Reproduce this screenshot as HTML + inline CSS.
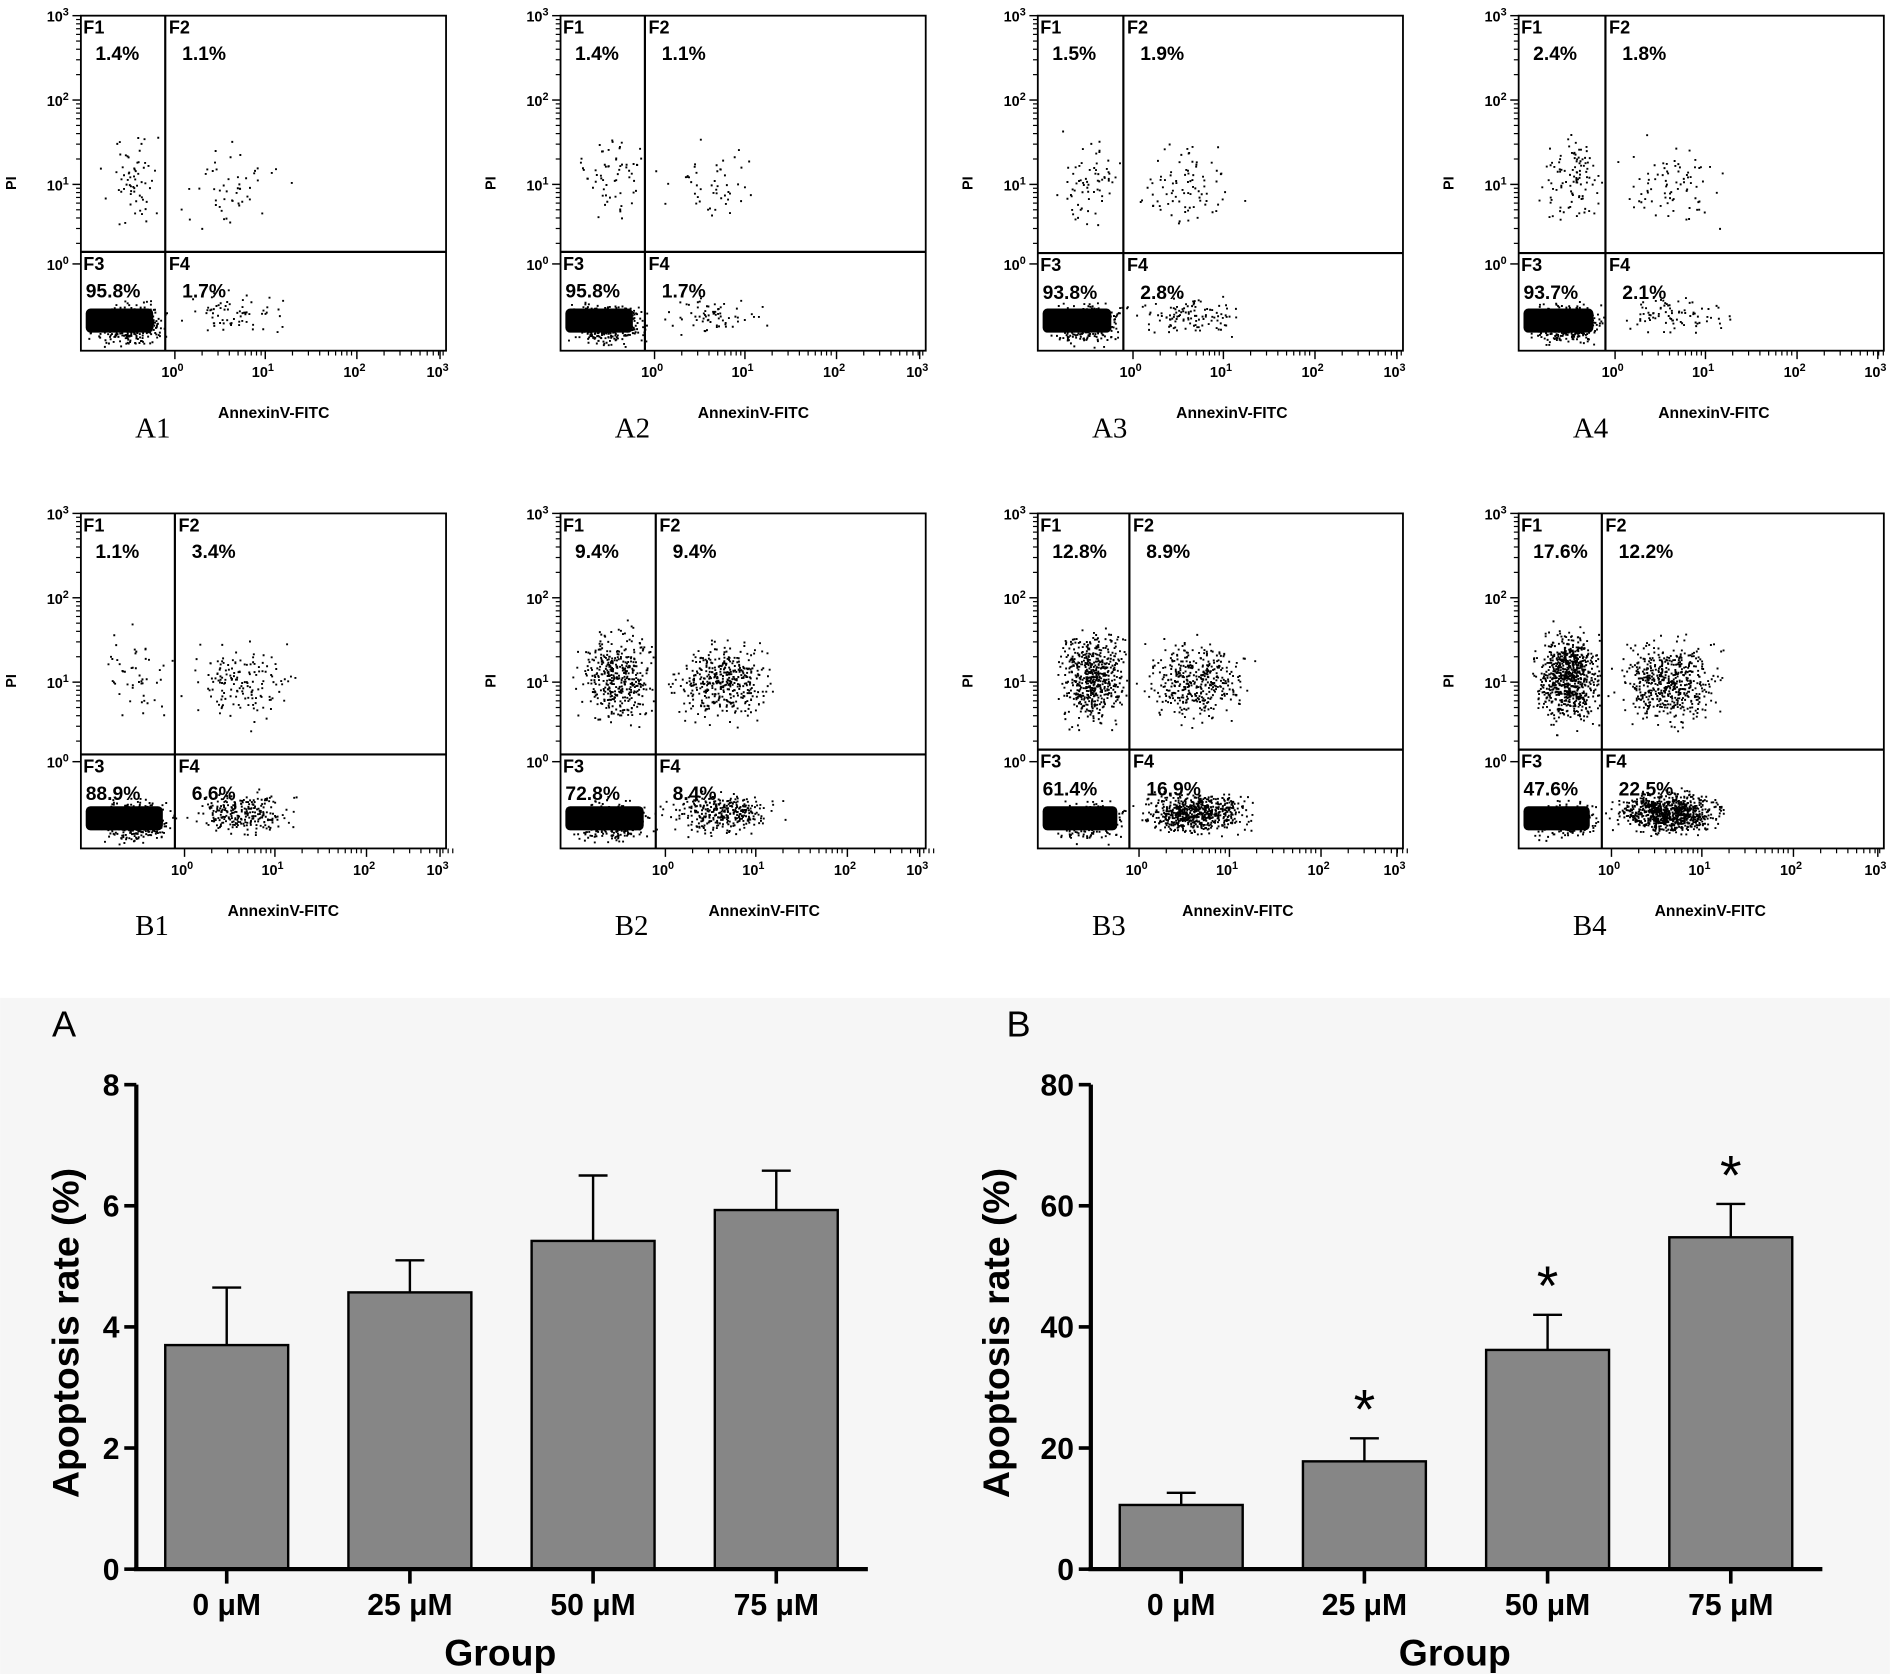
<!DOCTYPE html>
<html><head><meta charset="utf-8"><style>
html,body{margin:0;padding:0;background:#fff}
svg{display:block}
text{font-family:"Liberation Sans",sans-serif}
</style></head><body>
<svg id="fig" width="1890" height="1674" viewBox="0 0 1568 1389" xmlns="http://www.w3.org/2000/svg">
<rect x="0" y="828" width="1568" height="561" fill="#f6f6f6"/>
<g id="flow"></g>
<g id="barsA"></g>
<g id="barsB"></g>
</svg>
<script>
const panelNames=['A1','A2','A3','A4','B1','B2','B3','B4'];
const panelX=[67,465,861,1260,67,465,861,1260];
const panelY=[13,13,13,13,426,426,426,426];
const dividerX=[70,70,71,72,78,79,76,69];
const dividerY=[196,196,197,197,200,200,196,196];
const pctF1=['1.4%','1.4%','1.5%','2.4%','1.1%','9.4%','12.8%','17.6%'];
const pctF2=['1.1%','1.1%','1.9%','1.8%','3.4%','9.4%','8.9%','12.2%'];
const pctF3=['95.8%','95.8%','93.8%','93.7%','88.9%','72.8%','61.4%','47.6%'];
const pctF4=['1.7%','1.7%','2.8%','2.1%','6.6%','8.4%','16.9%','22.5%'];
const NS='http://www.w3.org/2000/svg';
function mk(tag,attrs,parent){const e=document.createElementNS(NS,tag);for(const k in attrs)e.setAttribute(k,attrs[k]);parent.appendChild(e);return e;}
let seed=12345;function rnd(){seed=(seed*1103515245+12345)%2147483648;return seed/2147483648;}
function gauss(){return (rnd()+rnd()+rnd()-1.5)/1.5;}
const flow=document.getElementById('flow');
const W=303,H=278;
panelNames.forEach((nm,i)=>{
  const g=mk('g',{transform:`translate(${panelX[i]},${panelY[i]})`},flow);
  
  
  const dx=dividerX[i],dy=dividerY[i];
  const p1=parseFloat(pctF1[i]),p2=parseFloat(pctF2[i]),p4=parseFloat(pctF4[i]),p3=parseFloat(pctF3[i]);
  function cloud(n,cx,cy,sx,sy,xmin,xmax,ymin,ymax){
    let s='';
    for(let k=0;k<n;k++){const x=cx+gauss()*sx,y=cy+gauss()*sy;
      if(x<xmin||x>xmax||y<ymin||y>ymax)continue;s+=`M${x.toFixed(1)} ${y.toFixed(1)}h1.6v1.6h-1.6z`;}
    const p=mk('path',{d:s,fill:'#000'},g);
    
    
  }
  cloud(Math.round(p1*45),dx*0.6,135,dx*0.5,50,2,dx-2,60,dy-2);
  cloud(Math.round(p2*45),dx+55,140,55,45,dx+2,W-5,70,dy-2);
  cloud(Math.round(p4*40),dx+55,248,55,22,dx+2,W-5,dy+2,H-4);
  cloud(Math.round(p3*5),dx*0.55,255,dx*0.55,22,2,dx+4,dy+2,H-2);
  const blob=mk('rect',{x:4,y:243,width:dx-14,height:20,rx:4,fill:'#000'},g);
  
  
  const box=mk('rect',{x:0,y:0,width:W,height:H,fill:'none',stroke:'#000','stroke-width':1.5},g);
  
  
  mk('line',{x1:dx,y1:0,x2:dx,y2:H,stroke:'#000','stroke-width':1.8},g);
  mk('line',{x1:0,y1:dy,x2:W,y2:dy,stroke:'#000','stroke-width':1.8},g);
  const yt=[0,70,140,206];
  const ylab=['3','2','1','0'];
  yt.forEach((y,k)=>{
    mk('line',{x1:-7,y1:y,x2:0,y2:y,stroke:'#000','stroke-width':1.2},g);
    for(let m=2;m<10&&k<3;m++){const yy=y+70-70*Math.log10(m);mk('line',{x1:-4,y1:yy,x2:0,y2:yy,stroke:'#000','stroke-width':1},g);}
    const t=mk('text',{x:-10,y:y+5,'text-anchor':'end','font-size':12,'font-weight':'bold'},g);
    t.innerHTML=`10<tspan dy="-5" font-size="9">${ylab[k]}</tspan>`;
    
    
  });
  const xt=[dx+8,dx+83,dx+159,W-5];
  const xlab=['0','1','2','3'];
  xt.forEach((x,k)=>{
    mk('line',{x1:x,y1:H,x2:x,y2:H+7,stroke:'#000','stroke-width':1.2},g);
    for(let m=2;m<10&&k<3;m++){const xx=x+75*Math.log10(m);mk('line',{x1:xx,y1:H,x2:xx,y2:H+4,stroke:'#000','stroke-width':1},g);}
    const t=mk('text',{x:x-2,y:H+22,'text-anchor':'middle','font-size':12,'font-weight':'bold'},g);
    t.innerHTML=`10<tspan dy="-5" font-size="9">${xlab[k]}</tspan>`;
    
    
  });
  const labs=[['F1',2,15],['F2',dx+3,15],['F3',2,dy+15],['F4',dx+3,dy+15]];
  labs.forEach(l=>{const t=mk('text',{x:l[1],y:l[2],'font-size':15,'font-weight':'bold'},g);t.textContent=l[0];
    });
  const pv=[[pctF1[i],12,37],[pctF2[i],dx+14,37],[pctF3[i],4,dy+38],[pctF4[i],dx+14,dy+38]];
  pv.forEach(l=>{const t=mk('text',{x:l[1],y:l[2],'font-size':16,'font-weight':'bold'},g);t.textContent=l[0];
    });
  const pi=mk('text',{transform:`translate(-54,${H/2}) rotate(-90)`,'text-anchor':'middle','font-size':12,'font-weight':'bold'},g);
  pi.textContent='PI';
  const ax=mk('text',{x:dx+90,y:H+56,'text-anchor':'middle','font-size':13,'font-weight':'bold'},g);
  ax.textContent='AnnexinV-FITC';
  const pl=mk('text',{x:45,y:H+72,'font-size':24,style:'font-family:"Liberation Serif",serif'},g);
  pl.textContent=nm;
});

const categories=['0 μM','25 μM','50 μM','75 μM'];
const valuesA=[3.7,4.57,5.42,5.93];
const errorsA=[0.95,0.53,1.08,0.65];
const ticksA=[0,2,4,6,8];
const valuesB=[10.6,17.8,36.2,54.8];
const errorsB=[2.0,3.8,5.8,5.5];
const ticksB=[0,20,40,60,80];
const starsB=[false,true,true,true];

function barChart(gid,ox,vals,errs,ticks,ymax,letter,stars,titleOff){
  const g=document.getElementById(gid);
  const y0=1302,yTop=900,xEnd=ox+607;
  const ys=v=>y0-(v/ymax)*(y0-yTop);
  const xs=i=>ox+75+i*152;
  const L=mk('text',{x:ox-70,y:860,'font-size':30},g);L.textContent=letter;
  
  vals.forEach((v,i)=>{
    const x=xs(i),top=ys(v+errs[i]);
    const e=mk('line',{x1:x,y1:ys(v),x2:x,y2:top,stroke:'#000','stroke-width':2},g);
    
    mk('line',{x1:x-12,y1:top,x2:x+12,y2:top,stroke:'#000','stroke-width':2},g);
    const b=mk('rect',{x:x-51,y:ys(v),width:102,height:y0-ys(v),fill:'#868686',stroke:'#000','stroke-width':2},g);
    
    mk('line',{x1:x,y1:y0,x2:x,y2:y0+12,stroke:'#000','stroke-width':3},g);
    const t=mk('text',{x:x,y:1340,'text-anchor':'middle','font-size':25,'font-weight':'bold'},g);
    t.textContent=categories[i];
    if(stars&&stars[i]){const s=mk('text',{x:x,y:top-8,'text-anchor':'middle','font-size':46},g);s.textContent='*';
      }
  });
  ticks.forEach(tv=>{
    mk('line',{x1:ox-10,y1:ys(tv),x2:ox,y2:ys(tv),stroke:'#000','stroke-width':3},g);
    const t=mk('text',{x:ox-14,y:ys(tv)+9,'text-anchor':'end','font-size':25,'font-weight':'bold'},g);
    t.textContent=tv;
  });
  const ya=mk('line',{x1:ox,y1:yTop,x2:ox,y2:y0+1.5,stroke:'#000','stroke-width':3.5},g);
  
  const xa=mk('line',{x1:ox-2,y1:y0,x2:xEnd,y2:y0,stroke:'#000','stroke-width':3.5},g);
  
  const yt=mk('text',{transform:`translate(${ox-titleOff},${(y0+yTop)/2+5}) rotate(-90)`,'text-anchor':'middle','font-size':31,'font-weight':'bold'},g);
  yt.textContent='Apoptosis rate (%)';
  const xt=mk('text',{x:ox+302,y:1382,'text-anchor':'middle','font-size':31,'font-weight':'bold'},g);
  xt.textContent='Group';
}
barChart('barsA',113,valuesA,errorsA,ticksA,8,'A',null,48);
barChart('barsB',905,valuesB,errorsB,ticksB,80,'B',starsB,68);
</script>
</body></html>
